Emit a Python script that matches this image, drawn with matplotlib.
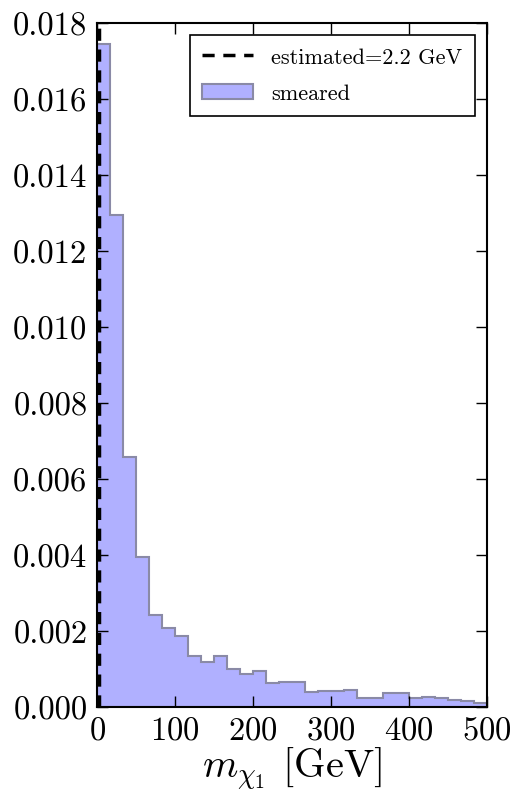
import numpy as np
import matplotlib
matplotlib.use('Agg')
import matplotlib.pyplot as plt

plt.rcParams['font.family'] = 'serif'
plt.rcParams['font.serif'] = ['cmr10', 'DejaVu Serif']
plt.rcParams['mathtext.fontset'] = 'cm'
plt.rcParams['axes.formatter.use_mathtext'] = True

# histogram: 30 bins from 0 to 500 GeV
bin_edges = np.linspace(0, 500, 31)
heights = [0.01745, 0.01295, 0.00658, 0.00395, 0.00242, 0.00208, 0.00187,
           0.00134, 0.00119, 0.00134, 0.00100, 0.00087, 0.00096, 0.00065,
           0.00067, 0.00067, 0.00039, 0.00043, 0.00043, 0.00045, 0.00025,
           0.00024, 0.00037, 0.00037, 0.00025, 0.00028, 0.00025, 0.00019,
           0.00017, 0.00010]
estimated = 2.2

fig = plt.figure(figsize=(5.14, 8.03), dpi=100)
ax = fig.add_axes([0.189, 0.118, 0.758, 0.852])

ax.axvline(estimated, color='k', ls='--', lw=2.5, dashes=(3.5, 2.5),
           label='estimated=2.2 GeV')
centers = 0.5 * (bin_edges[:-1] + bin_edges[1:])
ax.hist(centers, bins=bin_edges, weights=heights, histtype='stepfilled',
        facecolor=(0.69, 0.69, 1.0), edgecolor='#8a8aa6', lw=1.5,
        label='smeared')

ax.set_xlim(0, 500)
ax.set_ylim(0, 0.018)
ax.set_xticks([0, 100, 200, 300, 400, 500])
ax.set_yticks(np.arange(0, 0.0181, 0.002))
ax.yaxis.set_major_formatter(matplotlib.ticker.FormatStrFormatter('%.3f'))
ax.tick_params(direction='in', top=True, right=True, length=8, width=1,
               labelsize=23.5)
ax.tick_params(axis='y', pad=7)
ax.tick_params(axis='x', pad=6)
for s in ax.spines.values():
    s.set_linewidth(1.5)

ax.set_xlabel(r'$m_{\chi_1}$ [GeV]', fontsize=29, labelpad=0)

leg = ax.legend(loc='upper right', fontsize=16, fancybox=False,
                framealpha=1, edgecolor='k', handlelength=2.3,
                labelspacing=0.75, borderpad=0.55, borderaxespad=0.55)
leg.get_frame().set_linewidth(1.2)

fig.savefig('out.png', dpi=100)
